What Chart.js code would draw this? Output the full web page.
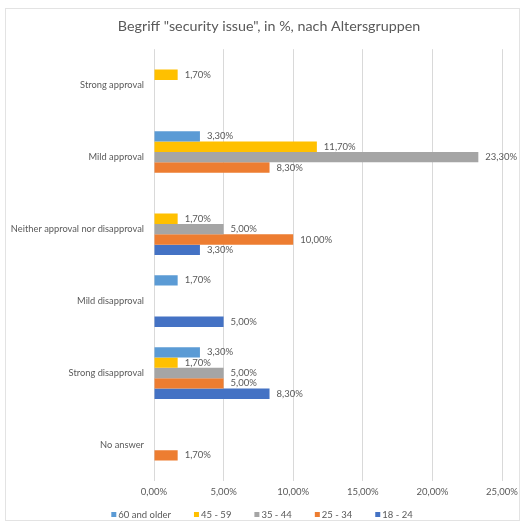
<!DOCTYPE html>
<html>
<head>
<meta charset="utf-8">
<script src="https://cdn.jsdelivr.net/npm/chart.js@4/dist/chart.umd.min.js"></script>
<style>
  html, body { margin:0; padding:0; background:#fff; }
  #wrap { position:absolute; left:0; top:0; width:525px; height:527px; }
</style>
</head>
<body>
<div id="wrap"><canvas id="c" width="525" height="527"></canvas></div>
<script>
const categories = ['Strong approval', 'Mild approval', 'Neither approval nor disapproval', 'Mild disapproval', 'Strong disapproval', 'No answer'];
const seriesNames = ['60 and older', '45 - 59', '35 - 44', '25 - 34', '18 - 24'];
const s60plus = [null, 3.3, null, 1.7, 3.3, null];
const s45_59  = [1.7, 11.7, 1.7, null, 1.7, null];
const s35_44  = [null, 23.3, 5.0, null, 5.0, null];
const s25_34  = [null, 8.3, 10.0, null, 5.0, 1.7];
const s18_24  = [null, null, 3.3, 5.0, 8.3, null];
const xTicks = [0, 5, 10, 15, 20, 25];
const colors = ['#5B9BD5', '#FFC000', '#A5A5A5', '#ED7D31', '#4472C4'];

const fmt = v => v.toFixed(2).replace('.', ',') + '%';
const FONT = 'Lato, "Open Sans", sans-serif';
const TXT = '#595959';

const seriesData = [s60plus, s45_59, s35_44, s25_34, s18_24];

const frame = {
  id: 'frame',
  afterInit(chart) {
    const t = chart.titleBlock;
    if (t) {
      const d = t.draw.bind(t);
      t.draw = function (a) {
        const c = chart.ctx; c.save(); c.translate(13, 0); d(a); c.restore();
      };
    }
  },
  beforeDraw(chart) {
    const ctx = chart.ctx;
    ctx.save();
    ctx.fillStyle = '#fff';
    ctx.fillRect(0, 0, chart.width, chart.height);
    ctx.strokeStyle = '#E3E3E3';
    ctx.lineWidth = 1;
    ctx.strokeRect(5.5, 8.5, 514, 512);
    ctx.restore();
  }
};

const labels = {
  id: 'valueLabels',
  afterDatasetsDraw(chart) {
    const ctx = chart.ctx;
    ctx.save();
    ctx.font = '9.5px ' + FONT;
    ctx.fillStyle = TXT;
    ctx.textAlign = 'left';
    ctx.textBaseline = 'middle';
    chart.data.datasets.forEach((ds, i) => {
      const meta = chart.getDatasetMeta(i);
      meta.data.forEach((el, j) => {
        const v = ds.data[j];
        if (v === null || v === undefined) return;
        ctx.fillText(fmt(v), el.x + 7, el.y);
      });
    });
    ctx.restore();
  }
};

const bottomLegend = {
  id: 'bottomLegend',
  afterDraw(chart) {
    const ctx = chart.ctx;
    ctx.save();
    ctx.font = '9.5px ' + FONT;
    ctx.textAlign = 'left';
    ctx.textBaseline = 'middle';
    const box = 5, gap = 2, itemGap = 23, cy = 515;
    const items = chart.data.datasets.map(ds => ({ text: ds.label, color: ds.backgroundColor, w: ctx.measureText(ds.label).width }));
    const total = items.reduce((s, it) => s + box + gap + it.w, 0) + itemGap * (items.length - 1);
    let x = 262 - total / 2;
    items.forEach(it => {
      ctx.fillStyle = it.color;
      ctx.fillRect(x, cy - box / 2 - 0.5, box, box);
      ctx.fillStyle = TXT;
      ctx.fillText(it.text, x + box + gap, cy);
      x += box + gap + it.w + itemGap;
    });
    ctx.restore();
  }
};

new Chart(document.getElementById('c'), {
  type: 'bar',
  data: {
    labels: categories,
    datasets: seriesData.map((d, i) => ({
      label: seriesNames[i],
      data: d,
      backgroundColor: colors[i],
      borderWidth: 0,
      categoryPercentage: 0.72,
      barPercentage: 1.0
    }))
  },
  options: {
    indexAxis: 'y',
    responsive: false,
    animation: false,
    layout: { padding: { left: 10, right: 23, top: 0, bottom: 29 } },
    scales: {
      x: {
        min: 0, max: 25,
        afterBuildTicks(scale) { scale.ticks = xTicks.map(v => ({ value: v })); },
        afterFit(scale) { scale.height = 17; },
        ticks: { callback: v => fmt(v), color: TXT, font: { family: FONT, size: 9.5 }, padding: 5, maxRotation: 0 },
        grid: { color: '#D9D9D9', drawTicks: false },
        border: { display: false }
      },
      y: {
        afterFit(scale) { scale.width = 144; },
        ticks: { color: TXT, font: { family: FONT, size: 9.3 }, padding: 10 },
        grid: { display: false, drawTicks: false },
        border: { display: false }
      }
    },
    plugins: {
      title: {
        display: true,
        text: 'Begriff "security issue", in %, nach Altersgruppen',
        color: TXT,
        font: { family: FONT, size: 14.3, weight: 'normal' },
        padding: { top: 18, bottom: 14 }
      },
      legend: { display: false },
      tooltip: { enabled: false }
    }
  },
  plugins: [frame, labels, bottomLegend]
});
</script>
</body>
</html>
